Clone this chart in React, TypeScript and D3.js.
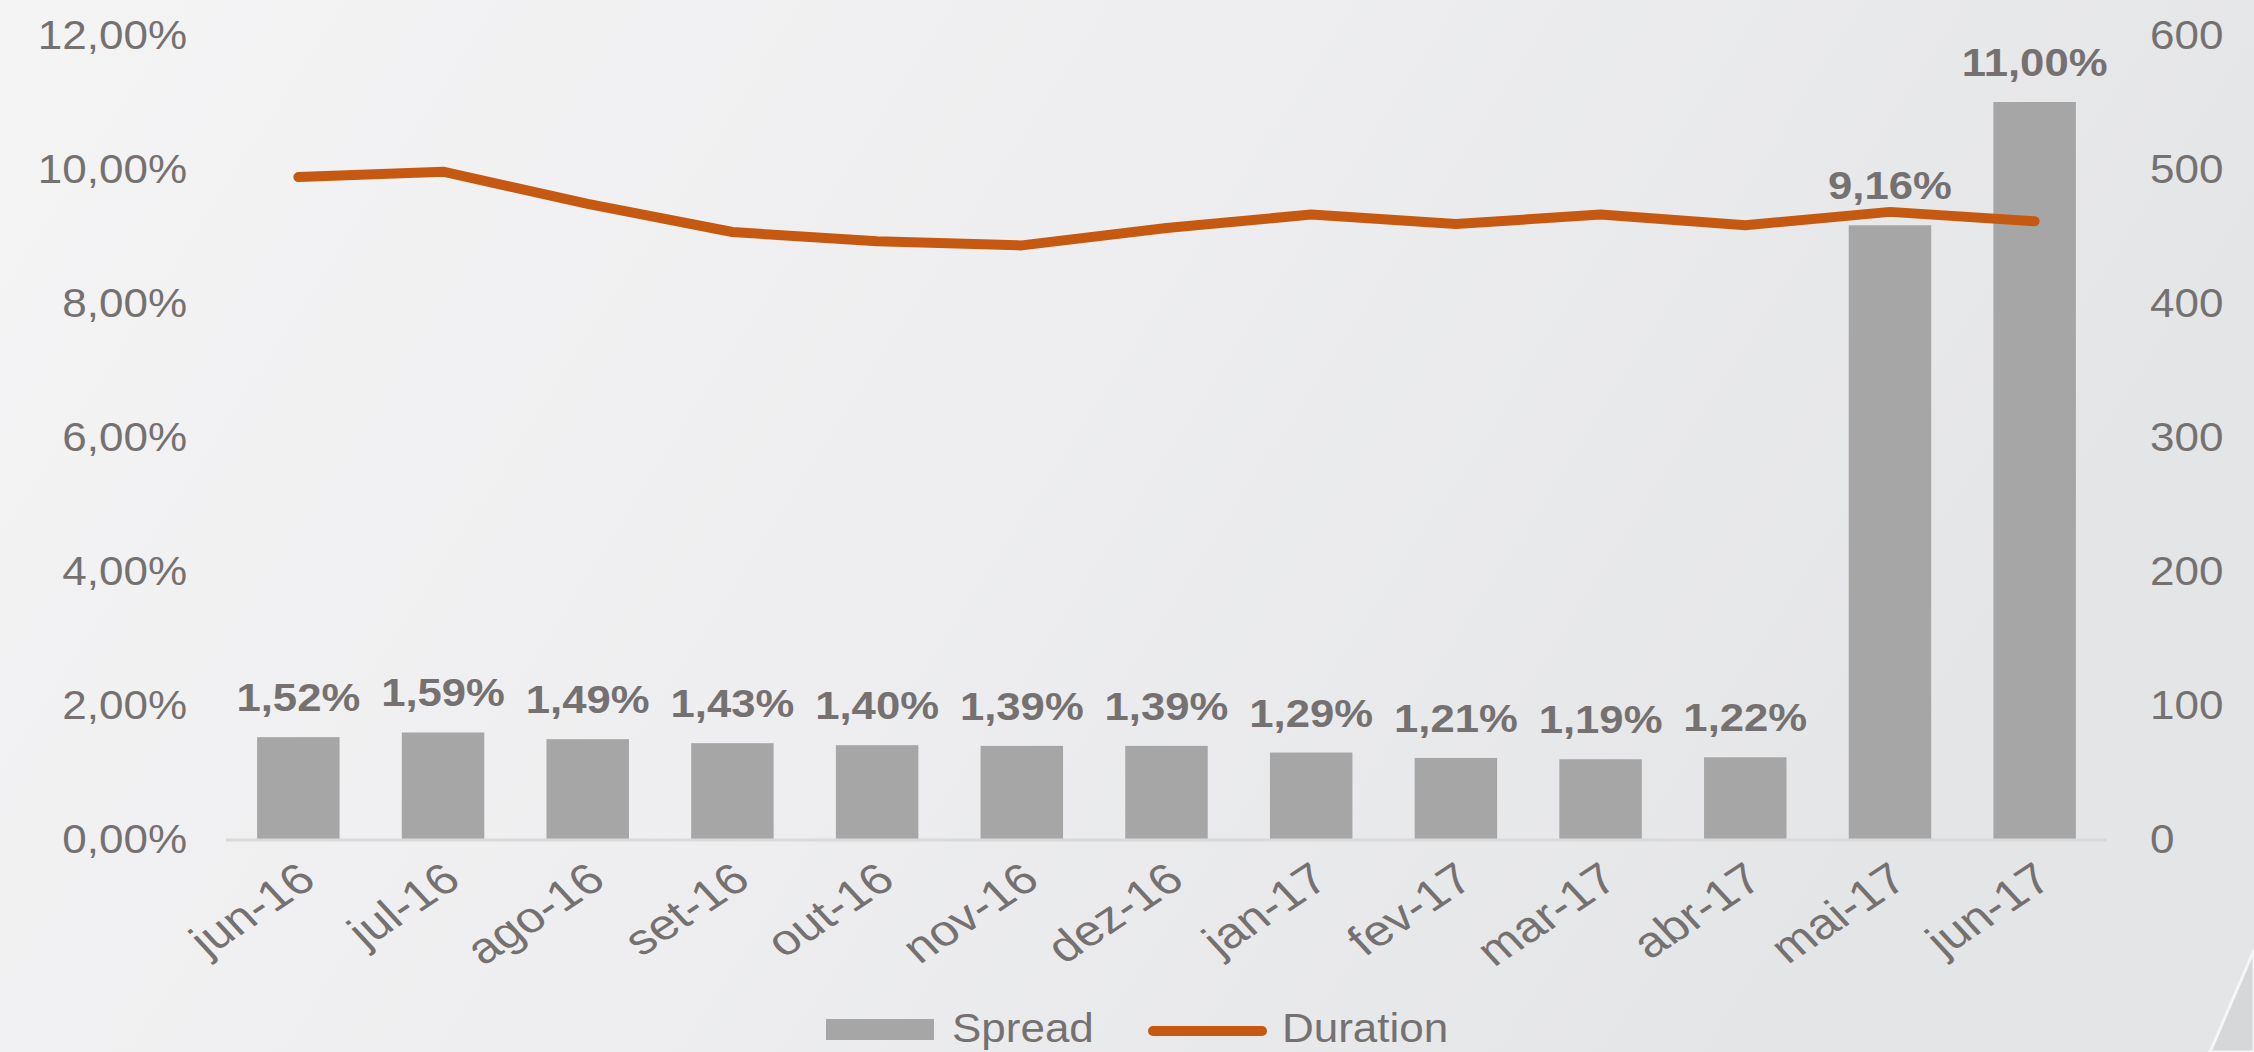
import React from "react";
import * as d3 from "d3";

const months = ["jun-16", "jul-16", "ago-16", "set-16", "out-16", "nov-16", "dez-16", "jan-17", "fev-17", "mar-17", "abr-17", "mai-17", "jun-17"];
const spread = [1.52, 1.59, 1.49, 1.43, 1.40, 1.39, 1.39, 1.29, 1.21, 1.19, 1.22, 9.16, 11.00];
const duration = [494, 498, 474, 453, 446, 443, 456, 466, 459, 466, 458, 468, 461];
const leftTicks = [0, 2, 4, 6, 8, 10, 12];
const rightTicks = [0, 100, 200, 300, 400, 500, 600];
const seriesNames = ["Spread", "Duration"];

const W = 2254;
const H = 1052;
const TEXT = "#767171";
const BAR = "#a6a6a6";
const LINE = "#c65911";
const FONT = "Liberation Sans, Arial, sans-serif";
const SX = 1.1;

const fmtPct = (v: number) => v.toFixed(2).replace(".", ",") + "%";

export default function App() {
  const x = d3.scaleBand<string>().domain(months).range([226, 2107]).paddingInner(0.43).paddingOuter(0.215);
  const yL = d3.scaleLinear().domain([0, 12]).range([839, 35]);
  const yR = d3.scaleLinear().domain([0, 600]).range([839, 35]);
  const cx = (m: string) => (x(m) as number) + x.bandwidth() / 2;

  const line = d3
    .line<number>()
    .x((_, i) => cx(months[i]))
    .y((d) => yR(d));

  return (
    <svg width={W} height={H} style={{ position: "absolute", left: 0, top: 0 }} fontFamily={FONT}>
      <defs>
        <linearGradient id="bg" x1="0" y1="0" x2="1" y2="0.3">
          <stop offset="0" stopColor="#f4f4f5" />
          <stop offset="0.5" stopColor="#eeeef0" />
          <stop offset="1" stopColor="#e4e5e7" />
        </linearGradient>
      </defs>
      <rect x={0} y={0} width={W} height={H} fill="url(#bg)" />
      <polygon points="2254,950 2254,1052 2210,1052" fill="#d6d7d9" stroke="#f6f6f7" strokeWidth={3} />

      {/* left axis labels */}
      {leftTicks.map((t) => (
        <text
          key={"l" + t}
          transform={`translate(187,${yL(t)}) scale(${SX},1)`}
          textAnchor="end"
          dominantBaseline="central"
          fontSize={40}
          fill={TEXT}
        >
          {fmtPct(t)}
        </text>
      ))}

      {/* right axis labels */}
      {rightTicks.map((t) => (
        <text
          key={"r" + t}
          transform={`translate(2150,${yR(t)}) scale(${SX},1)`}
          textAnchor="start"
          dominantBaseline="central"
          fontSize={40}
          fill={TEXT}
        >
          {t}
        </text>
      ))}

      {/* bars */}
      {months.map((m, i) => (
        <rect
          key={"b" + m}
          x={x(m)}
          y={yL(spread[i])}
          width={x.bandwidth()}
          height={yL(0) - yL(spread[i])}
          fill={BAR}
        />
      ))}

      {/* baseline */}
      <line x1={226} x2={2107} y1={yL(0) + 1} y2={yL(0) + 1} stroke="#d9d9d9" strokeWidth={3} />

      {/* duration line */}
      <path d={line(duration) || ""} fill="none" stroke={LINE} strokeWidth={10} strokeLinecap="round" strokeLinejoin="round" />

      {/* data labels */}
      {months.map((m, i) => (
        <text
          key={"d" + m}
          transform={`translate(${cx(m)},${yL(spread[i]) - 26}) scale(1.12,1)`}
          textAnchor="middle"
          fontSize={39}
          fontWeight="bold"
          fill={TEXT}
        >
          {fmtPct(spread[i])}
        </text>
      ))}

      {/* x labels */}
      {months.map((m) => (
        <text
          key={"x" + m}
          transform={`translate(${cx(m) + 20},884) scale(1.18,1) rotate(-38)`}
          textAnchor="end"
          fontSize={43}
          fill={TEXT}
        >
          {m}
        </text>
      ))}

      {/* legend */}
      <rect x={826} y={1019} width={108} height={21} fill={BAR} />
      <text transform={`translate(952,1042) scale(${SX},1)`} fontSize={40} fill={TEXT}>
        {seriesNames[0]}
      </text>
      <line x1={1153} x2={1262} y1={1031} y2={1031} stroke={LINE} strokeWidth={10} strokeLinecap="round" />
      <text transform={`translate(1282,1042) scale(${SX},1)`} fontSize={40} fill={TEXT}>
        {seriesNames[1]}
      </text>
    </svg>
  );
}
